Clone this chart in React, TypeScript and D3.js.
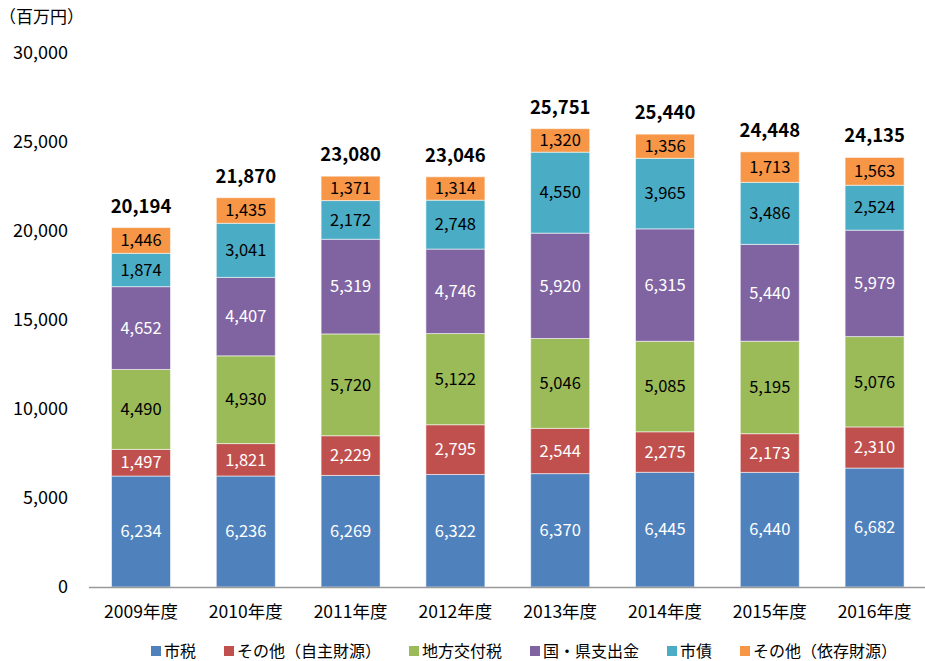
import React from "react";
import * as d3 from "d3";

const categories = ["2009年度", "2010年度", "2011年度", "2012年度", "2013年度", "2014年度", "2015年度", "2016年度"];
const seriesNames = ["市税", "その他（自主財源）", "地方交付税", "国・県支出金", "市債", "その他（依存財源）"];
const shizei = [6234, 6236, 6269, 6322, 6370, 6445, 6440, 6682];
const sonotaJishu = [1497, 1821, 2229, 2795, 2544, 2275, 2173, 2310];
const chihoKofuzei = [4490, 4930, 5720, 5122, 5046, 5085, 5195, 5076];
const kokuKenShishutsu = [4652, 4407, 5319, 4746, 5920, 6315, 5440, 5979];
const shisai = [1874, 3041, 2172, 2748, 4550, 3965, 3486, 2524];
const sonotaIzon = [1446, 1435, 1371, 1314, 1320, 1356, 1713, 1563];
const totals = [20194, 21870, 23080, 23046, 25751, 25440, 24448, 24135];
const yTicks = [0, 5000, 10000, 15000, 20000, 25000, 30000];

const seriesValues = [shizei, sonotaJishu, chihoKofuzei, kokuKenShishutsu, shisai, sonotaIzon];
const colors = ["#4F81BD", "#C0504D", "#9BBB59", "#8064A2", "#4BACC6", "#F79646"];
const labelColors = ["#ffffff", "#ffffff", "#000000", "#ffffff", "#000000", "#000000"];

const FONT = "'Noto Sans CJK JP', 'Noto Sans', sans-serif";

export default function App() {
  const W = 925, H = 661;
  const x = d3.scaleBand<string>().domain(categories).range([88.6, 927]).paddingInner(0.437).paddingOuter(0.2185);
  const y = d3.scaleLinear().domain([0, 30000]).range([587, 53]);
  const fmt = d3.format(",");

  const rows = categories.map((c, i) => {
    const r: any = { cat: c };
    seriesNames.forEach((s, k) => (r[s] = seriesValues[k][i]));
    return r;
  });
  const stacked = d3.stack<any>().keys(seriesNames)(rows);

  // legend layout
  const legFont = 16;
  const sq = 10, sqGap = 3, itemGap = 28;
  const widths = seriesNames.map((s) => sq + sqGap + s.length * legFont);
  const totalW = d3.sum(widths) + itemGap * (seriesNames.length - 1);
  let lx = 524 - totalW / 2;
  const legendPos = widths.map((w) => {
    const p = lx;
    lx += w + itemGap;
    return p;
  });

  return (
    <svg width={W} height={H} style={{ position: "absolute", left: 0, top: 0, background: "#fff" }} fontFamily={FONT}>
      <text x={-1} y={23} fontSize={17} fill="#000">（百万円）</text>
      {yTicks.map((t) => (
        <text key={t} x={68} y={y(t)} dy="0.35em" textAnchor="end" fontSize={18} fill="#000">
          {fmt(t)}
        </text>
      ))}
      {stacked.map((layer, k) => (
        <g key={layer.key}>
          {layer.map((d, i) => {
            const x0 = x(categories[i])!;
            const y0 = y(d[1]);
            const h = y(d[0]) - y(d[1]);
            return (
              <g key={i}>
                <rect x={x0} y={y0} width={x.bandwidth()} height={h} fill={colors[k]} stroke="rgba(255,255,255,0.55)" strokeWidth={1} />
                <text x={x0 + x.bandwidth() / 2} y={y0 + h / 2} dy="0.35em" textAnchor="middle" fontSize={16.5} fill={labelColors[k]}>
                  {fmt(seriesValues[k][i])}
                </text>
              </g>
            );
          })}
        </g>
      ))}
      <line x1={89} x2={925} y1={587.5} y2={587.5} stroke="#999" strokeWidth={1.5} />
      {categories.map((c, i) => (
        <text key={c} x={x(c)! + x.bandwidth() / 2} y={612} dy="0.35em" textAnchor="middle" fontSize={17.5} fill="#000">
          {c}
        </text>
      ))}
      {totals.map((t, i) => (
        <text key={i} x={x(categories[i])! + x.bandwidth() / 2} y={y(t) - 15} textAnchor="middle" fontSize={18.5} fontWeight="bold" fill="#000">
          {fmt(t)}
        </text>
      ))}
      {seriesNames.map((s, k) => (
        <g key={s} transform={`translate(${legendPos[k]},651)`}>
          <rect x={0} y={-5} width={sq} height={sq} fill={colors[k]} />
          <text x={sq + sqGap} y={0} dy="0.35em" fontSize={legFont} fill="#000">{s}</text>
        </g>
      ))}
    </svg>
  );
}
